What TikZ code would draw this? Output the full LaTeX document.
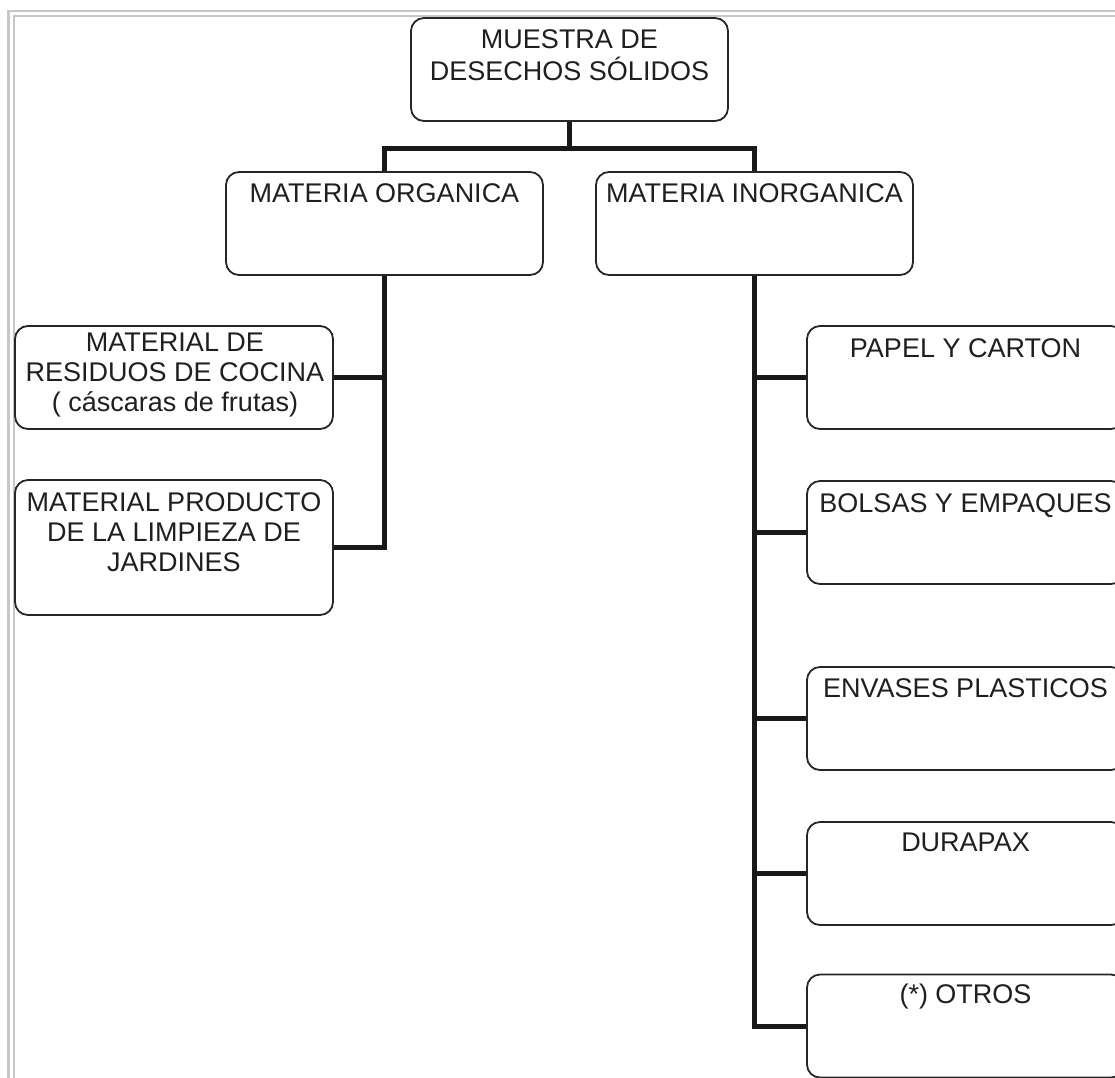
\documentclass[tikz,border=0pt]{standalone}
\usepackage{fontspec}
\setmainfont{Liberation Sans}
\begin{document}
\begin{tikzpicture}[x=1pt,y=-1pt,
  box/.style={draw=black!85, line width=1.8pt, rounded corners=13pt, minimum height=103pt, inner sep=0pt},
  lbl/.style={font=\fontsize{27}{30}\selectfont, text=black!88, align=center, inner sep=0pt, anchor=base},
  conn/.style={draw=black!90, line width=5pt, line join=miter},
  frameline/.style={draw=black!22, line width=2.5pt}]
\useasboundingbox (0,0) rectangle (1115,1077);
% frame
\draw[frameline] (8.7,1200) -- (8.7,11) -- (1200,11);
\draw[frameline] (14,1200) -- (14,16) -- (1200,16);
% boxes
\node[box, minimum width=317pt] (root) at (569.5,69.5) {};
\node[box, minimum width=317pt] (org) at (384.5,223.5) {};
\node[box, minimum width=317pt] (inorg) at (754.5,223.5) {};
\node[box, minimum width=318pt] (cocina) at (174,377.5) {};
\node[box, minimum width=318pt, minimum height=135pt] (jard) at (174,547.5) {};
\node[box, minimum width=317pt] (papel) at (965.5,377.5) {};
\node[box, minimum width=317pt] (bolsas) at (965.5,532.5) {};
\node[box, minimum width=317pt] (envases) at (965.5,718.5) {};
\node[box, minimum width=317pt] (durapax) at (965.5,873.5) {};
\node[box, minimum width=317pt] (otros) at (965.5,1026) {};
% labels (base anchor = baseline of the last line)
\node[lbl, font=\fontsize{27}{32}\selectfont] (troot) at ([yshift=-63pt]root.north) {MUESTRA DE\\DESECHOS SÓLIDOS};
\node[lbl] (torg) at ([yshift=-31pt]org.north) {MATERIA ORGANICA};
\node[lbl] (tinorg) at ([yshift=-31pt]inorg.north) {MATERIA INORGANICA};
\node[lbl] (tcocina) at ([yshift=-86pt,xshift=1pt]cocina.north) {MATERIAL DE\\RESIDUOS DE COCINA\\( cáscaras de frutas)};
\node[lbl] (tjard) at ([yshift=-92pt]jard.north) {MATERIAL PRODUCTO\\DE LA LIMPIEZA DE\\JARDINES};
\node[lbl] (tpapel) at ([yshift=-32pt]papel.north) {PAPEL Y CARTON};
\node[lbl] (tbolsas) at ([yshift=-32pt]bolsas.north) {BOLSAS Y EMPAQUES};
\node[lbl] (tenvases) at ([yshift=-31pt]envases.north) {ENVASES PLASTICOS};
\node[lbl] (tdurapax) at ([yshift=-30pt]durapax.north) {DURAPAX};
\node[lbl] (totros) at ([yshift=-30pt]otros.north) {(*) OTROS};
% connectors
\coordinate (split) at ([yshift=-27pt]root.south);
\draw[conn] (root.south) -- (split);
\draw[conn] (org.north) |- (split) -| (inorg.north);
\draw[conn] (org.south) |- (cocina.east);
\draw[conn] (org.south) |- (jard.east);
\draw[conn] (inorg.south) |- (papel.west);
\draw[conn] (inorg.south) |- (bolsas.west);
\draw[conn] (inorg.south) |- (envases.west);
\draw[conn] (inorg.south) |- (durapax.west);
\draw[conn] (inorg.south) |- (otros.west);
\end{tikzpicture}
\end{document}
